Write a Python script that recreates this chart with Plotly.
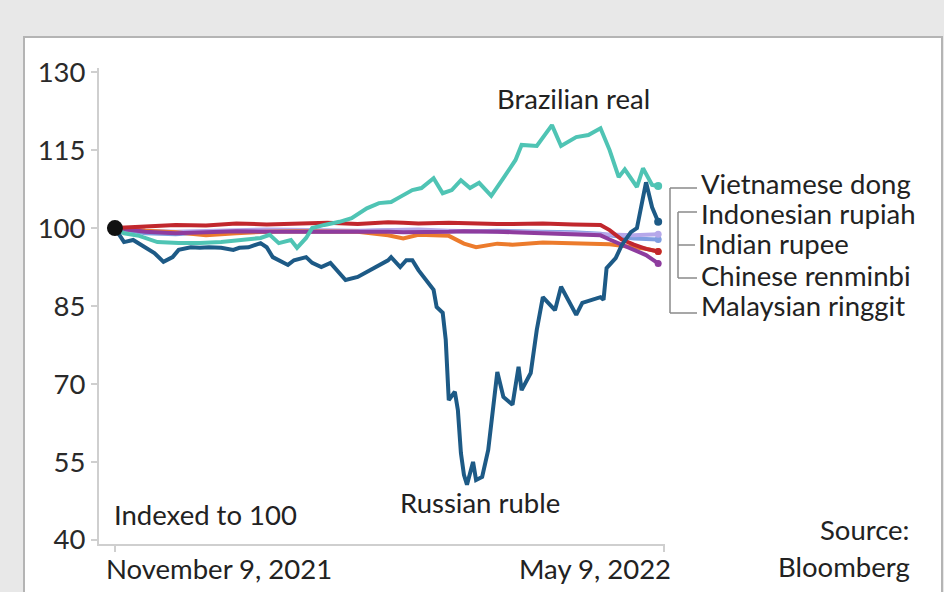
import plotly.graph_objects as go

# ---------------- data ----------------
ruble_dates = ["2021-11-09","2021-11-12","2021-11-15","2021-11-18","2021-11-22","2021-11-25","2021-11-28","2021-11-30",
"2021-12-04","2021-12-07","2021-12-10","2021-12-14","2021-12-18","2021-12-20","2021-12-23","2021-12-27","2021-12-29","2021-12-31",
"2022-01-02","2022-01-05","2022-01-07","2022-01-09","2022-01-11","2022-01-13","2022-01-16","2022-01-19","2022-01-22","2022-01-24","2022-01-28","2022-01-31",
"2022-02-03","2022-02-07","2022-02-08","2022-02-11","2022-02-13","2022-02-15","2022-02-17","2022-02-20","2022-02-22","2022-02-23","2022-02-25","2022-02-26","2022-02-27",
"2022-03-01","2022-03-02","2022-03-03","2022-03-04","2022-03-05","2022-03-07","2022-03-08","2022-03-10","2022-03-12","2022-03-15","2022-03-17","2022-03-20","2022-03-22","2022-03-23","2022-03-26","2022-03-28","2022-03-30",
"2022-04-03","2022-04-05","2022-04-10","2022-04-12","2022-04-18","2022-04-19","2022-04-20","2022-04-23","2022-04-25","2022-04-28","2022-04-30",
"2022-05-03","2022-05-05","2022-05-07"]
ruble_values = [100.0,97.3,97.7,96.7,95.2,93.5,94.4,95.8,
96.3,96.2,96.3,96.2,95.8,96.2,96.3,97.1,96.3,94.4,
93.8,92.9,93.8,94.2,94.4,93.3,92.5,93.3,91.3,90.0,90.6,91.5,
92.5,93.8,94.4,92.5,93.8,93.8,91.9,89.6,88.1,84.8,83.7,78.5,66.9,
68.5,65.0,56.7,52.5,50.6,55.0,51.5,52.1,57.3,72.3,67.5,66.0,73.3,68.8,72.1,80.4,86.7,
84.2,88.7,83.3,85.6,86.7,86.2,92.3,94.2,96.7,99.2,100.0,
108.8,104.0,101.2]

real_dates = ["2021-11-09","2021-11-12","2021-11-17","2021-11-23","2021-11-30","2021-12-07","2021-12-14","2021-12-20","2021-12-27","2021-12-30",
"2022-01-02","2022-01-06","2022-01-08","2022-01-11","2022-01-13","2022-01-17","2022-01-22","2022-01-26","2022-01-31",
"2022-02-04","2022-02-08","2022-02-11","2022-02-15","2022-02-18","2022-02-22","2022-02-25","2022-02-28",
"2022-03-03","2022-03-06","2022-03-09","2022-03-13","2022-03-17","2022-03-21","2022-03-23","2022-03-28",
"2022-04-02","2022-04-05","2022-04-10","2022-04-14","2022-04-18","2022-04-21","2022-04-24","2022-04-26","2022-04-30",
"2022-05-02","2022-05-05","2022-05-07"]
real_values = [100.0,99.0,98.5,97.3,97.1,97.1,97.3,97.7,98.1,98.7,
97.1,97.7,96.2,98.1,100.0,100.6,101.2,101.9,103.8,
104.8,105.0,106.0,107.3,107.7,109.6,106.7,107.3,
109.2,107.7,108.7,106.2,109.6,113.1,116.0,115.8,
119.8,115.8,117.5,117.9,119.2,115.0,109.8,111.3,107.9,
111.5,108.3,108.1]

flat_dates = ["2021-11-09","2021-11-19","2021-11-29","2021-12-09","2021-12-19","2021-12-29","2022-01-08","2022-01-18","2022-01-28",
"2022-02-07","2022-02-12","2022-02-17","2022-02-27","2022-03-04","2022-03-08","2022-03-15","2022-03-20","2022-03-30",
"2022-04-09","2022-04-18","2022-04-21","2022-04-25","2022-04-29","2022-05-03","2022-05-07"]
renminbi_values = [100.0,100.3,100.6,100.5,100.9,100.7,100.9,101.0,100.8,
101.1,101.0,100.9,101.0,100.9,100.9,100.8,100.8,100.9,
100.7,100.6,99.6,97.8,96.8,96.0,95.5]
rupee_values = [100.0,99.5,99.2,98.6,99.0,99.3,99.4,99.3,99.3,
98.6,98.0,98.7,98.5,97.0,96.3,97.0,96.8,97.2,
97.0,97.0,96.9,96.6,96.3,96.0,95.5]
ringgit_values = [100.0,99.3,99.0,99.2,99.4,99.3,99.3,99.4,99.4,
99.3,99.2,99.2,99.3,99.4,99.4,99.3,99.2,99.0,
98.8,98.6,97.8,96.8,96.0,94.8,93.2]
dong_values = [100.0,99.5,99.3,99.5,99.6,99.7,99.7,99.6,99.5,
99.6,99.7,99.7,99.5,99.4,99.4,99.3,99.3,99.2,
99.0,98.8,98.7,98.6,98.6,98.7,98.8]
rupiah_values = [100.0,99.0,98.8,99.2,99.4,99.5,99.4,99.3,99.4,
99.6,99.5,99.4,99.4,99.5,99.4,99.5,99.4,99.3,
99.2,98.9,98.6,98.3,98.0,97.9,97.8]

tick_dates = ["2021-11-09", "2022-05-09"]
tick_labels = ["November 9, 2021", "May 9, 2022"]
y_ticks = [40, 55, 70, 85, 100, 115, 130]

right_labels = ["Vietnamese dong", "Indonesian rupiah", "Indian rupee", "Chinese renminbi", "Malaysian ringgit"]

# ---------------- styling ----------------
W, H = 944, 592
L, R, T, B = 99, 665, 68, 544
FONT = "Lato"
TXT = "#222222"
FS = 27.5
LW = 4

def px(x):
    return (x - L) / (R - L)

def py(y):
    return (B - y) / (B - T)

fig = go.Figure()

flat = [
    ("Indonesian rupiah", flat_dates, rupiah_values, "#7f9ee0"),
    ("Vietnamese dong", flat_dates, dong_values, "#b6a8ea"),
    ("Indian rupee", flat_dates, rupee_values, "#ec7b2c"),
    ("Malaysian ringgit", flat_dates, ringgit_values, "#8e3c9e"),
    ("Chinese renminbi", flat_dates, renminbi_values, "#c1272d"),
]
for name, d, v, c in flat:
    fig.add_trace(go.Scatter(x=d, y=v, mode="lines", name=name,
                             line=dict(color=c, width=LW)))
    fig.add_trace(go.Scatter(x=[d[-1]], y=[v[-1]], mode="markers",
                             marker=dict(color=c, size=7), hoverinfo="skip"))

fig.add_trace(go.Scatter(x=real_dates, y=real_values, mode="lines", name="Brazilian real",
                         line=dict(color="#4fc4b4", width=LW)))
fig.add_trace(go.Scatter(x=[real_dates[-1]], y=[real_values[-1]], mode="markers",
                         marker=dict(color="#4fc4b4", size=8), hoverinfo="skip"))
fig.add_trace(go.Scatter(x=ruble_dates, y=ruble_values, mode="lines", name="Russian ruble",
                         line=dict(color="#1d5a86", width=LW)))
fig.add_trace(go.Scatter(x=[ruble_dates[-1]], y=[ruble_values[-1]], mode="markers",
                         marker=dict(color="#1d5a86", size=8), hoverinfo="skip"))
# start point
fig.add_trace(go.Scatter(x=[ruble_dates[0]], y=[ruble_values[0]], mode="markers",
                         marker=dict(color="#111111", size=16), hoverinfo="skip"))

shapes = []
# white panel with border
shapes.append(dict(type="rect", xref="paper", yref="paper", x0=px(24), x1=px(942), y0=py(620), y1=py(37),
                   fillcolor="white", line=dict(color="#b4b4b4", width=2), layer="below"))
# bracket lines
gl = dict(color="#8a8a8a", width=1.5)
def seg(x0, y0, x1, y1):
    shapes.append(dict(type="line", xref="paper", yref="paper", x0=px(x0), y0=py(y0), x1=px(x1), y1=py(y1), line=gl))
seg(670, 188, 670, 313)
seg(670, 188, 697, 188)
seg(670, 313, 697, 313)
seg(678, 212, 678, 278)
seg(678, 212, 697, 212)
seg(678, 278, 697, 278)
seg(678, 245, 695, 245)

annotations = []
def text(t, x, y, xa="left", ya="middle", size=FS):
    annotations.append(dict(text=t, xref="paper", yref="paper", x=px(x), y=py(y),
                            xanchor=xa, yanchor=ya, showarrow=False,
                            font=dict(family=FONT, size=size, color=TXT)))
label_y = [183, 213, 243, 275, 305]
label_x = [699, 699, 696, 699, 699]
for t, xx, yy in zip(right_labels, label_x, label_y):
    text(t, xx, yy)
text("Brazilian real", 573, 98, xa="center")
text("Russian ruble", 480, 502, xa="center")
text("Indexed to 100", 112, 514)
text("Source:", 912, 529, xa="right")
text("Bloomberg", 912, 566, xa="right")
# x tick labels (left / right aligned to their ticks)
text(tick_labels[0], 104, 568, xa="left")
text(tick_labels[1], 673, 568, xa="right")

fig.update_layout(
    width=W, height=H,
    margin=dict(l=L, r=W - R, t=T, b=H - B, pad=0),
    paper_bgcolor="#e8e8e8",
    plot_bgcolor="rgba(0,0,0,0)",
    showlegend=False,
    shapes=shapes,
    annotations=annotations,
    font=dict(family=FONT, size=FS, color="#2a2a2a"),
    xaxis=dict(type="date", range=["2021-11-03 18:00", "2022-05-09 06:00"],
               tickvals=tick_dates, ticktext=["", ""],
               showgrid=False, zeroline=False, showline=True, linecolor="#cfcfcf", linewidth=2,
               ticks="outside", ticklen=6, tickcolor="#cfcfcf", tickwidth=2),
    yaxis=dict(range=[39.2, 130.8], tickvals=y_ticks,
               showgrid=False, zeroline=False, showline=True, linecolor="#cfcfcf", linewidth=2,
               ticks="outside", ticklen=6, tickcolor="#cfcfcf", tickwidth=2,
               tickfont=dict(family=FONT, size=FS, color="#2a2a2a")),
)

fig.write_html("out.html", config={"displayModeBar": False},
               post_script="document.body.style.margin='0px';document.body.style.overflow='hidden';")
